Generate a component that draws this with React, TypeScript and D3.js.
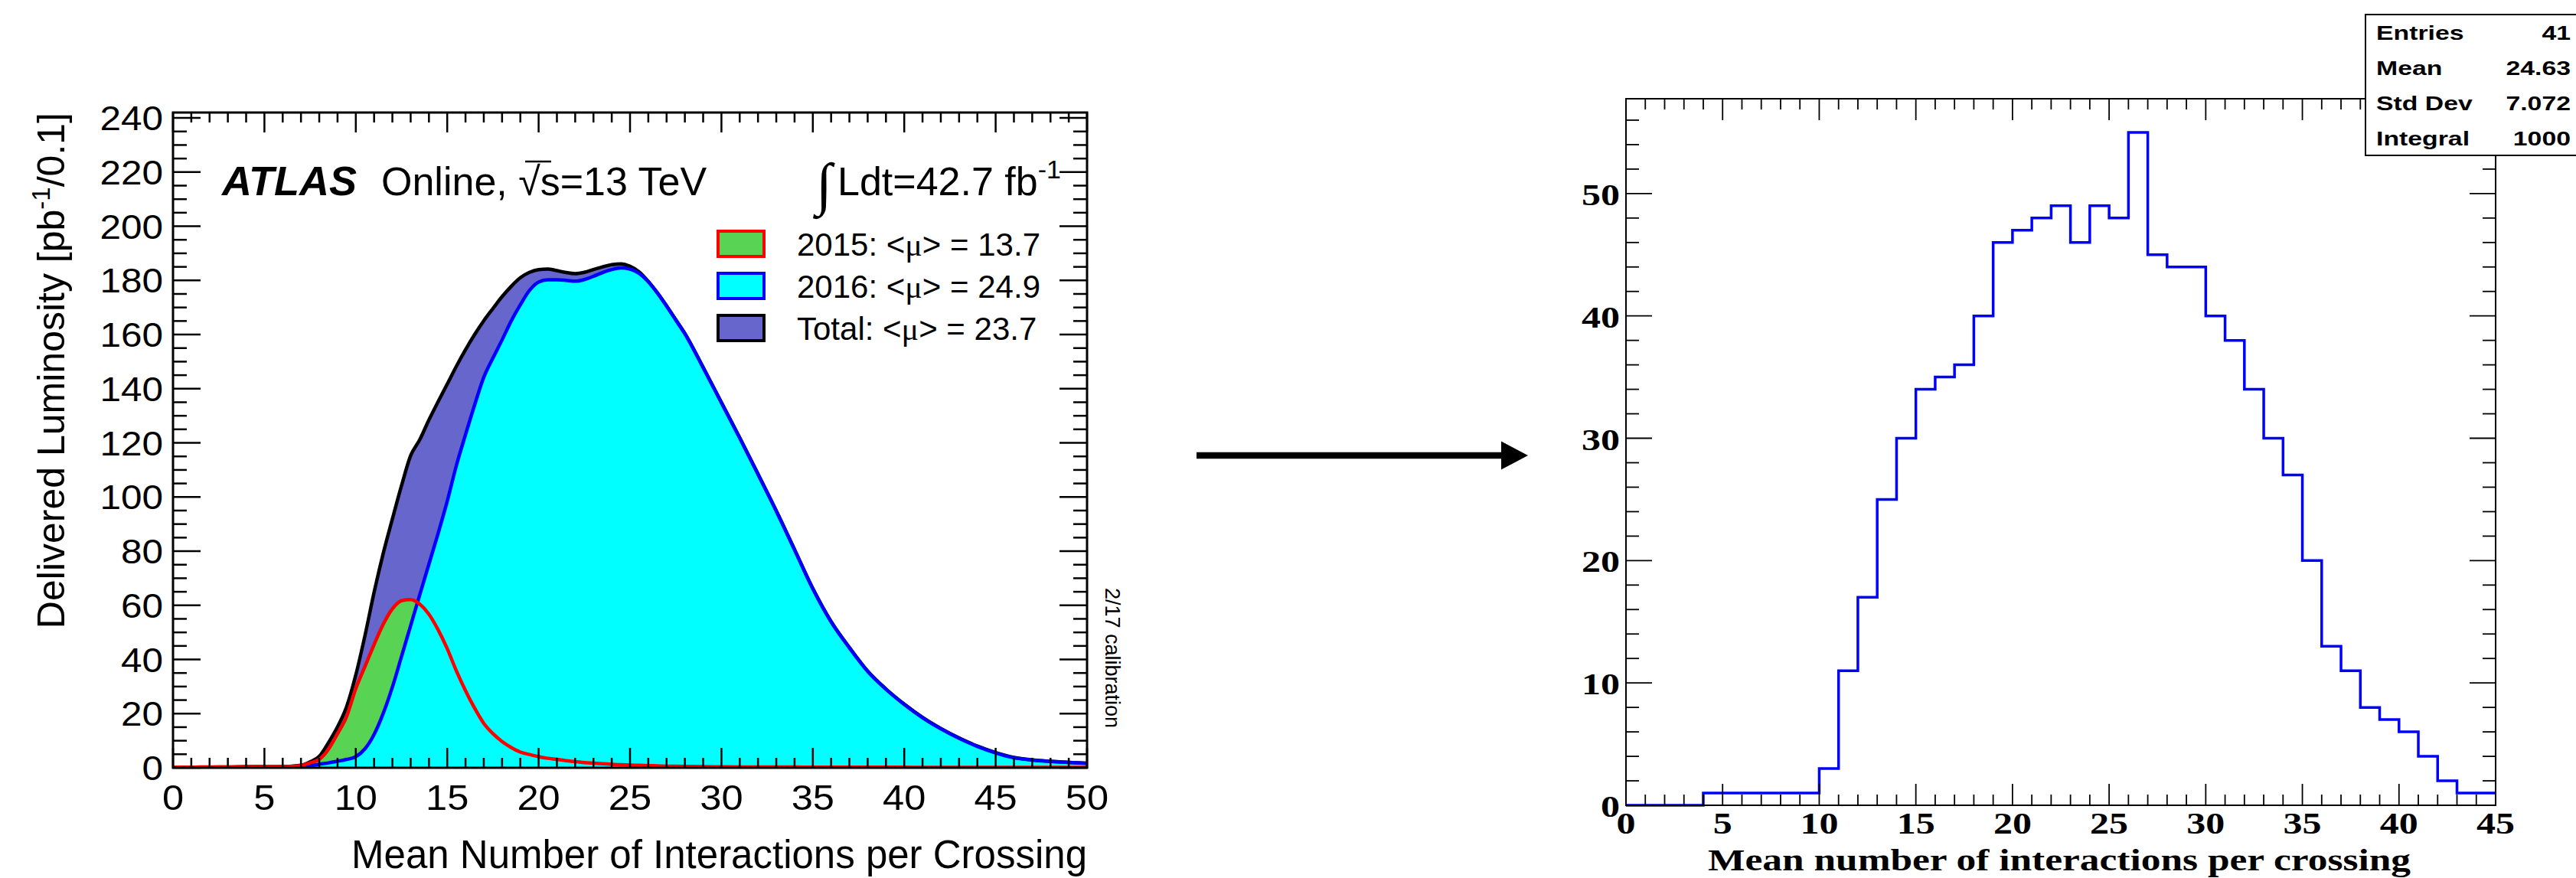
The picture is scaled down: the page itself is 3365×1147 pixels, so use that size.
import React from 'react';
import * as d3 from 'd3';

// ---- left panel: ATLAS <mu> distribution ----
const muGrid = [
  0, 1, 2, 3, 4, 5, 6,
  6.5, 7, 7.5, 8, 8.5, 9, 9.5, 10, 10.5, 11, 11.5, 12, 12.5, 13, 13.5, 14, 14.5, 15, 15.5,
  16, 16.5, 17, 17.5, 18, 18.5, 19, 19.5, 20, 20.5, 21, 21.5, 22, 22.5, 23, 23.5, 24, 24.5,
  25, 25.5, 26, 26.5, 27, 27.5, 28,
  29, 30, 31, 32, 33, 34, 35, 36, 37, 38, 39, 40, 41, 42, 43, 44, 45, 46, 47, 48, 49, 50,
];
const lumiTotal = [
  0.2, 0.2, 0.3, 0.3, 0.4, 0.4, 0.5,
  0.6, 0.9, 2.2, 4.2, 9.2, 15.1, 22.6, 34.3, 48.8, 64.8, 79.2, 91.9, 104.2, 115.3, 121.2, 128.5, 135.2, 141.7, 148.3,
  154.4, 160, 165.1, 169.6, 174, 177.8, 181, 183, 184, 184.2, 183.6, 182.9, 182.5, 183, 184, 185, 185.8, 186.1,
  185.2, 183.1, 179.6, 175.4, 170.6, 165.5, 160.4,
  147.9, 134.9, 121.9, 108.5, 94.9, 80.6, 66.2, 54, 44.4, 35.7, 29.1, 23.5, 18.6, 14.5, 11, 8, 5.6, 3.8, 2.9, 2.4, 2, 1.7,
];
const lumi2016 = [
  0, 0, 0, 0, 0, 0, 0.1,
  0.2, 0.4, 0.8, 1.3, 1.8, 2.4, 3.1, 4.1, 7, 12.3, 20.1, 29.8, 41.1, 52.5, 63.9, 75.2, 86.5, 98.4, 111.6,
  123, 134, 144.2, 151.3, 158, 165, 171, 176.3, 179.4, 180.2, 180.2, 180, 179.7, 180.3, 181.5, 182.9, 184, 184.6,
  184.2, 182.6, 179.5, 175.3, 170.5, 165.4, 160.3,
  147.8, 134.8, 121.8, 108.4, 94.8, 80.5, 66.1, 53.9, 44.3, 35.6, 29, 23.4, 18.5, 14.4, 10.9, 7.9, 5.5, 3.7, 2.85, 2.35, 1.95, 1.65,
];
const lumi2015 = [
  0.2, 0.2, 0.2, 0.3, 0.3, 0.3, 0.4,
  0.5, 0.8, 1.8, 3.1, 6.8, 12.6, 19, 29.3, 37.4, 45.5, 53, 58.7, 61.7, 62.1, 60.4, 56.7, 51, 44, 35.8,
  28.5, 22, 16.4, 12.6, 9.7, 7.5, 5.8, 4.9, 4.1, 3.5, 3.1, 2.6, 2.3, 1.9, 1.7, 1.5, 1.3, 1.1,
  1, 0.9, 0.8, 0.7, 0.6, 0.55, 0.5,
  0.4, 0.35, 0.3, 0.3, 0.25, 0.25, 0.2, 0.2, 0.2, 0.2, 0.2, 0.2, 0.15, 0.15, 0.15, 0.15, 0.15, 0.15, 0.15, 0.15, 0.15, 0.15,
];
const legendYears = ['2015: ', '2016: ', 'Total: '];
const legendMeans = ['13.7', '24.9', '23.7'];
const legendFills = ['#59d354', '#00ffff', '#6666cc'];
const legendLines = ['#ff0000', '#0000ff', '#000000'];

// ---- right panel: toy histogram ----
const histCounts = [
  0, 0, 0, 0, 1, 1, 1, 1, 1, 1,
  3, 11, 17, 25, 30, 34, 35, 36, 40, 46,
  47, 48, 49, 46, 49, 48, 55, 45, 44, 44,
  40, 38, 34, 30, 27, 20, 13, 11, 8, 7,
  6, 4, 2, 1, 1,
];
const statLabels = ['Entries', 'Mean', 'Std Dev', 'Integral'];
const statValues = ['41', '24.63', '7.072', '1000'];

const SANS = "'Liberation Sans', Arial, Helvetica, sans-serif";
const SERIF = "'Liberation Serif', 'Times New Roman', serif";

// the pasted plots are a bit wider than tall, so text is stretched sideways
const Wide = ({ x, y, sx, children, ...rest }: any) => (
  <text transform={`translate(${x},${y}) scale(${sx},1)`} {...rest}>{children}</text>
);

const LeftPanel = () => {
  const x = d3.scaleLinear().domain([0, 50]).range([226, 1420]);
  const y = d3.scaleLinear().domain([0, 242]).range([1003, 147]);
  const [x0, x1] = x.range();
  const [yb, yt] = y.range();

  const pts = (vals: number[]) => muGrid.map((m, i) => [m, vals[i]] as [number, number]);
  const area = d3.area<[number, number]>()
    .x(d => x(d[0])).y0(y(0)).y1(d => y(d[1]))
    .curve(d3.curveMonotoneX);
  const line = d3.line<[number, number]>()
    .x(d => x(d[0])).y(d => y(d[1]))
    .curve(d3.curveMonotoneX);

  const xMajor = d3.range(0, 51, 5);
  const xMinor = d3.range(0, 51, 1);
  const yMajor = d3.range(0, 241, 20);
  const yMinor = d3.range(0, 242, 5);

  return (
    <g fontFamily={SANS}>
      <defs>
        <clipPath id="leftClip">
          <rect x={x0} y={yt} width={x1 - x0} height={yb - yt} />
        </clipPath>
      </defs>
      <g clipPath="url(#leftClip)">
        <path d={area(pts(lumiTotal)) || ''} fill="#6666cc" />
        <path d={area(pts(lumi2015)) || ''} fill="#59d354" />
        <path d={area(pts(lumi2016)) || ''} fill="#00ffff" />
        <path d={line(pts(lumiTotal)) || ''} fill="none" stroke="#000" strokeWidth={4.5} />
        <path d={line(pts(lumi2016)) || ''} fill="none" stroke="#0000ff" strokeWidth={4.5} />
        <path d={line(pts(lumi2015)) || ''} fill="none" stroke="#ff0000" strokeWidth={4.5} />
      </g>

      {/* ticks on all four sides */}
      <g stroke="#000" strokeWidth={2.5}>
        {xMinor.map(v => {
          const len = v % 5 === 0 ? 26 : 13;
          return (
            <g key={'xt' + v}>
              <line x1={x(v)} x2={x(v)} y1={yb} y2={yb - len} />
              <line x1={x(v)} x2={x(v)} y1={yt} y2={yt + len} />
            </g>
          );
        })}
        {yMinor.map(v => {
          const len = v % 20 === 0 ? 36 : 18;
          return (
            <g key={'yt' + v}>
              <line x1={x0} x2={x0 + len} y1={y(v)} y2={y(v)} />
              <line x1={x1} x2={x1 - len} y1={y(v)} y2={y(v)} />
            </g>
          );
        })}
      </g>
      <rect x={x0} y={yt} width={x1 - x0} height={yb - yt} fill="none" stroke="#000" strokeWidth={3} />

      {/* tick labels */}
      {xMajor.map(v => (
        <Wide key={'xl' + v} x={x(v)} y={1058} sx={1.1} fontSize={46} textAnchor="middle">{v}</Wide>
      ))}
      {yMajor.map(v => (
        <Wide key={'yl' + v} x={213} y={y(v) + 16} sx={1.1} fontSize={45} textAnchor="end">{v}</Wide>
      ))}

      {/* axis titles */}
      <text x={x1} y={1134} fontSize={51} textAnchor="end">Mean Number of Interactions per Crossing</text>
      <text transform={`translate(84, ${yt}) rotate(-90)`} fontSize={50} textAnchor="end">
        Delivered Luminosity [pb<tspan dy={-19} fontSize={33}>-1</tspan><tspan dy={19}>/0.1]</tspan>
      </text>

      {/* ATLAS label */}
      <text x={290} y={255} fontSize={54} fontWeight="bold" fontStyle="italic">ATLAS</text>
      <text x={498} y={255} fontSize={52}>Online, √s=13 TeV</text>
      <line x1={686} x2={720} y1={211} y2={211} stroke="#000" strokeWidth={2.5} />

      {/* integrated luminosity */}
      <text x={1066} y={266} fontSize={76} fontFamily={SERIF}>∫</text>
      <text x={1094} y={255} fontSize={52}>
        Ldt=42.7 fb<tspan dy={-22} fontSize={34}>-1</tspan>
      </text>

      {/* legend */}
      {legendYears.map((lab, i) => (
        <g key={'lg' + i}>
          <rect x={938} y={302 + i * 55} width={60} height={33} fill={legendFills[i]}
            stroke={legendLines[i]} strokeWidth={4} />
          <text x={1041} y={334 + i * 55} fontSize={42}>
            {lab}&lt;<tspan fontFamily={SERIF}>μ</tspan>&gt; = {legendMeans[i]}
          </text>
        </g>
      ))}

      <text transform="translate(1444, 768) rotate(90)" fontSize={27}>2/17 calibration</text>
    </g>
  );
};

const RightPanel = () => {
  const x = d3.scaleLinear().domain([0, 45]).range([2124, 3260]);
  const y = d3.scaleLinear().domain([0, 57.75]).range([1052, 129]);
  const [x0, x1] = x.range();
  const [yb, yt] = y.range();

  const stepPts = histCounts.map((c, i) => [i, c] as [number, number]);
  stepPts.push([histCounts.length, histCounts[histCounts.length - 1]]);
  const step = d3.line<[number, number]>()
    .x(d => x(d[0])).y(d => y(d[1]))
    .curve(d3.curveStepAfter);

  const xMajor = d3.range(0, 46, 5);
  const xMinor = d3.range(0, 46, 1);
  const yMajor = d3.range(0, 51, 10);
  const yMinor = d3.range(0, 57, 2);

  return (
    <g>
      <path d={step(stepPts) || ''} fill="none" stroke="#0000ff" strokeWidth={3.5} />
      <g stroke="#000" strokeWidth={1.8}>
        {xMinor.map(v => {
          const len = v % 5 === 0 ? 28 : 14;
          return (
            <g key={'rxt' + v}>
              <line x1={x(v)} x2={x(v)} y1={yb} y2={yb - len} />
              <line x1={x(v)} x2={x(v)} y1={yt} y2={yt + len} />
            </g>
          );
        })}
        {yMinor.map(v => {
          const len = v % 10 === 0 ? 34 : 17;
          return (
            <g key={'ryt' + v}>
              <line x1={x0} x2={x0 + len} y1={y(v)} y2={y(v)} />
              <line x1={x1} x2={x1 - len} y1={y(v)} y2={y(v)} />
            </g>
          );
        })}
      </g>
      <rect x={x0} y={yt} width={x1 - x0} height={yb - yt} fill="none" stroke="#000" strokeWidth={2} />

      <g fontFamily={SERIF} fontWeight="bold">
        {xMajor.map(v => (
          <Wide key={'rxl' + v} x={x(v)} y={1089} sx={1.22} fontSize={41} textAnchor="middle">{v}</Wide>
        ))}
        {yMajor.map(v => (
          <Wide key={'ryl' + v} x={2116} y={y(v) + 15} sx={1.22} fontSize={41} textAnchor="end">{v}</Wide>
        ))}
        <text x={2231} y={1137} fontSize={41} textLength={918} lengthAdjust="spacingAndGlyphs">
          Mean number of interactions per crossing
        </text>
      </g>

      {/* stats box */}
      <rect x={3090} y={19} width={290} height={184} fill="#fff" stroke="#000" strokeWidth={2} />
      <g fontFamily={SANS} fontWeight="bold" fontSize={26}>
        {statLabels.map((s, i) => (
          <g key={'st' + i}>
            <Wide x={3104} y={52 + i * 46} sx={1.3}>{s}</Wide>
            <Wide x={3358} y={52 + i * 46} sx={1.3} textAnchor="end">{statValues[i]}</Wide>
          </g>
        ))}
      </g>
    </g>
  );
};

const Arrow = () => (
  <g>
    <line x1={1563} x2={1963} y1={595} y2={595} stroke="#000" strokeWidth={8.5} />
    <path d="M1961,576.5 L1996,595 L1961,613.5 Z" fill="#000" />
  </g>
);

export default function App() {
  return (
    <svg width={3365} height={1147} style={{ position: 'absolute', left: 0, top: 0, background: '#fff' }}>
      <rect width={3365} height={1147} fill="#fff" />
      <LeftPanel />
      <Arrow />
      <RightPanel />
    </svg>
  );
}
